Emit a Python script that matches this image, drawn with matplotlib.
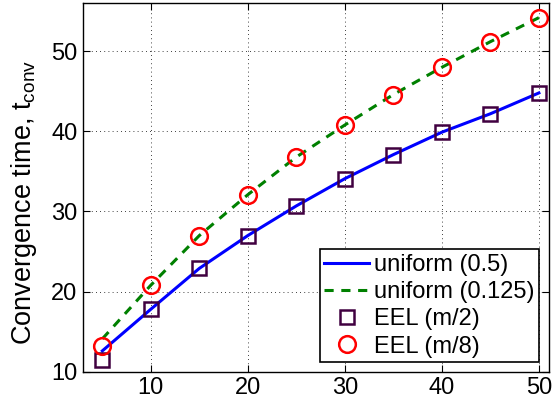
import matplotlib
matplotlib.use("Agg")
import matplotlib.pyplot as plt

plt.rcParams['font.family'] = ['Liberation Sans', 'DejaVu Sans']
plt.rcParams['mathtext.default'] = 'regular'

# data
m_vals = [5, 10, 15, 20, 25, 30, 35, 40, 45, 50]
uniform_05 = [12.6, 17.8, 22.9, 27.0, 30.7, 34.1, 37.1, 39.9, 42.2, 44.8]
uniform_0125 = [14.1, 20.8, 27.0, 32.1, 36.8, 40.8, 44.6, 48.0, 51.2, 54.2]
eel_m2 = [11.5, 17.8, 22.9, 27.0, 30.7, 34.0, 37.0, 39.9, 42.2, 44.8]
eel_m8 = [13.2, 20.8, 27.0, 32.1, 36.8, 40.8, 44.6, 48.0, 51.2, 54.2]

fig = plt.figure(figsize=(5.53, 4.04), dpi=100)
ax = fig.add_axes([0.150, 0.080, 0.842, 0.912])

ax.plot(m_vals, uniform_05, '-', color='#0000ff', lw=2.2, label='uniform (0.5)')
ax.plot(m_vals, uniform_0125, '--', color='#008000', lw=2.2, dashes=(3, 2.5),
        label='uniform (0.125)')
ax.plot(m_vals, eel_m2, 's', ms=9.5, mfc='none', mec='#400040', mew=1.8,
        label='EEL (m/2)')
ax.plot(m_vals, eel_m8, 'o', ms=12, mfc='none', mec='#ff0000', mew=1.8,
        label='EEL (m/8)')

ax.set_xlim(3, 51)
ax.set_ylim(10, 56)
ax.set_xticks([10, 20, 30, 40, 50])
ax.set_yticks([10, 20, 30, 40, 50])
ax.tick_params(direction='in', top=True, right=True, length=5, labelsize=17, pad=4)
ax.grid(True, linestyle=(0, (1, 4)), color='k', linewidth=0.6)
ax.set_ylabel('Convergence time, t$_{conv}$', fontsize=19.5)
ax.yaxis.set_label_coords(-0.095, 0.46)
for s in ax.spines.values():
    s.set_linewidth(1.0)

leg = ax.legend(loc='lower right', fontsize=17, frameon=True, fancybox=False,
                framealpha=1, edgecolor='k', handlelength=1.9, handletextpad=0.2,
                borderpad=0.2, labelspacing=0.22, borderaxespad=0.4)
leg.get_frame().set_linewidth(1.2)

fig.savefig('out.png', dpi=100)
